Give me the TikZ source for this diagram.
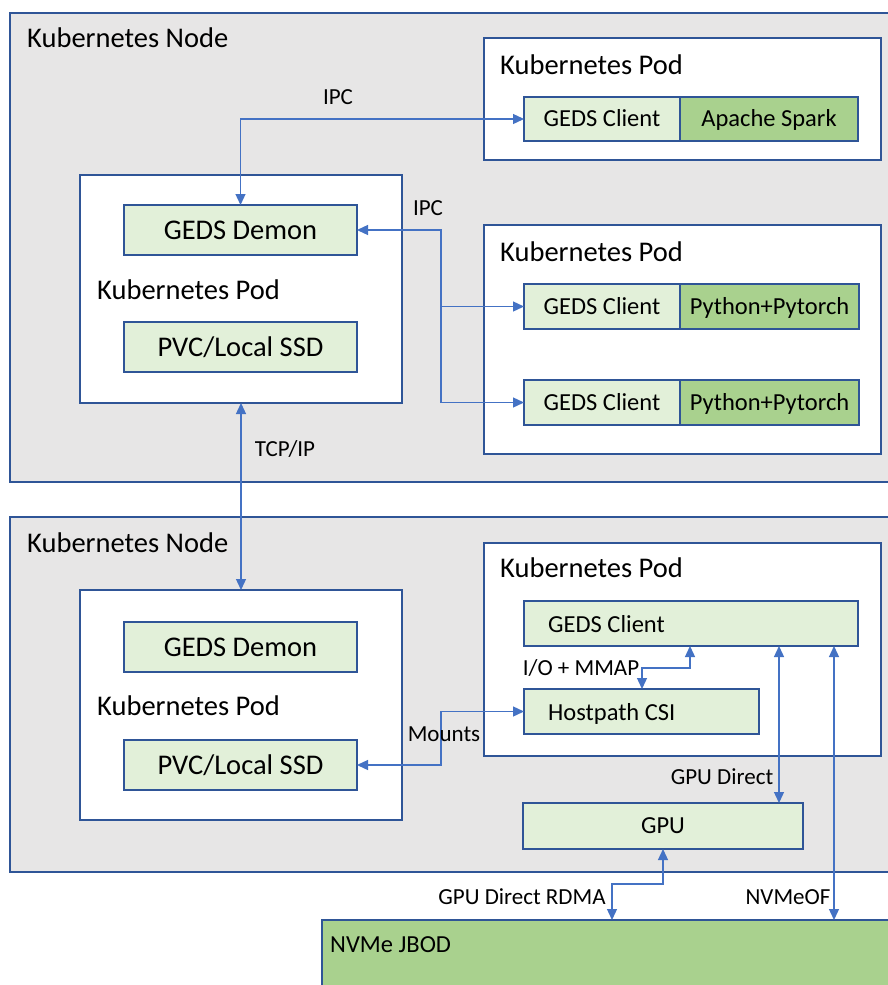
\documentclass[tikz,border=0pt]{standalone}
\usepackage{fontspec}
\setmainfont{Carlito}
\usetikzlibrary{arrows.meta}
\definecolor{nodegray}{HTML}{E7E6E6}
\definecolor{bord}{HTML}{2F5597}
\definecolor{conncol}{HTML}{4472C4}
\definecolor{lgreen}{HTML}{E2F0D9}
\definecolor{dgreen}{HTML}{A9D18E}
\begin{document}
\begin{tikzpicture}[x=1pt,y=-1pt,
  rect/.style={draw=bord, line width=2pt, anchor=north west, inner sep=0pt, outer sep=0pt},
  knode/.style={rect, fill=nodegray},
  pod/.style={rect, fill=white},
  gbox/.style={rect, line width=1.8pt, fill=lgreen, font=\fontsize{24.5}{28}\selectfont, text height=15.8pt, text depth=0pt},
  dbox/.style={gbox, fill=dgreen},
  bigbox/.style={gbox, font=\fontsize{28.5}{32}\selectfont, text height=18.4pt},
  title/.style={anchor=base west, inner sep=0pt, font=\fontsize{28.5}{32}\selectfont},
  boxtext/.style={anchor=base west, inner sep=0pt, font=\fontsize{24.5}{28}\selectfont},
  lbl/.style={anchor=base, inner sep=0pt, font=\fontsize{23}{26}\selectfont},
  conn/.style={draw=conncol, line width=1.3pt, {Triangle[length=11pt,width=10pt]}-{Triangle[length=11pt,width=10pt]}},
  conn1/.style={draw=conncol, line width=1.3pt, -{Triangle[length=11pt,width=10pt]}}
]
\useasboundingbox (0,0) rectangle (888,985);
\fill[white] (0,0) rectangle (888,985);

% Kubernetes nodes
\node[knode, minimum width=890pt, minimum height=469pt] (kn1) at (10,13) {};
\node[knode, minimum width=890pt, minimum height=355pt] (kn2) at (10,517) {};
\node[title] (kn1t) at (27,47) {Kubernetes Node};
\node[title] (kn2t) at (27,552) {Kubernetes Node};

% Top node pods
\node[pod, minimum width=397pt, minimum height=122pt] (podA) at (484,38) {};
\node[title] (podAt) at (500,74) {Kubernetes Pod};
\node[gbox, minimum width=156pt, minimum height=44pt] (clientA) at (524,97) {GEDS Client};
\node[dbox, minimum width=178pt, minimum height=44pt] (sparkA) at (680,97) {Apache Spark};

\node[pod, minimum width=322pt, minimum height=228pt] (podL1) at (80,175) {};
\node[bigbox, minimum width=233pt, minimum height=50pt] (demon1) at (124,205) {GEDS Demon};
\node[title] (podL1t) at (97,299) {Kubernetes Pod};
\node[bigbox, minimum width=233pt, minimum height=50pt] (pvc1) at (124,322) {PVC/Local SSD};

\node[pod, minimum width=397pt, minimum height=229pt] (podB) at (484,225) {};
\node[title] (podBt) at (500,261) {Kubernetes Pod};
\node[gbox, minimum width=156pt, minimum height=45pt] (clientB) at (524,284) {GEDS Client};
\node[dbox, minimum width=179pt, minimum height=45pt] (pyB) at (680,284) {Python+Pytorch};
\node[gbox, minimum width=156pt, minimum height=45pt] (clientC) at (524,380) {GEDS Client};
\node[dbox, minimum width=179pt, minimum height=45pt] (pyC) at (680,380) {Python+Pytorch};

% Bottom node pods
\node[pod, minimum width=322pt, minimum height=230pt] (podL2) at (80,590) {};
\node[bigbox, minimum width=233pt, minimum height=50pt] (demon2) at (124,622) {GEDS Demon};
\node[title] (podL2t) at (97,715) {Kubernetes Pod};
\node[bigbox, minimum width=233pt, minimum height=50pt] (pvc2) at (124,740) {PVC/Local SSD};

\node[pod, minimum width=397pt, minimum height=213pt] (podD) at (484,543) {};
\node[title] (podDt) at (500,577) {Kubernetes Pod};
\node[gbox, minimum width=334pt, minimum height=45pt] (clientD) at (524,601) {};
\node[boxtext] (clientDt) at (548,632) {GEDS Client};
\node[gbox, minimum width=235pt, minimum height=45pt] (hostpath) at (524,689) {};
\node[boxtext] (hostpatht) at (548,720) {Hostpath CSI};

\node[gbox, minimum width=280pt, minimum height=46pt] (gpu) at (523,803) {GPU};

\node[rect, fill=dgreen, minimum width=580pt, minimum height=80pt] (jbod) at (322,920) {};
\node[boxtext] (jbodt) at (330,952) {NVMe JBOD};

% helper coordinates
\coordinate (j1) at (441,0);
\coordinate (m1) at (642,668);
\coordinate (m2) at (690,668);
\coordinate (gd) at (779,0);
\coordinate (nv) at (834,0);
\coordinate (r1) at (664,884);
\coordinate (r2) at (612,884);

% connectors
\draw[conn] (demon1.north) |- (clientA.west);
\draw[conn] (demon1.east) -- (demon1.east -| j1) |- (clientB.west);
\draw[conn1] (clientB.west -| j1) |- (clientC.west);
\draw[conn] (podL1.south) -- (podL2.north);
\draw[conn] (pvc2.east) -- (pvc2.east -| j1) |- (hostpath.west);
\draw[conn] (hostpath.north -| m1) -- (m1) -- (m2) -- (m2 |- clientD.south);
\draw[conn] (clientD.south -| gd) -- (gpu.north -| gd);
\draw[conn] (clientD.south -| nv) -- (jbod.north -| nv);
\draw[conn] (gpu.south) -- (gpu.south |- r1) -- (r2) -- (r2 |- jbod.north);

% labels
\node[lbl] (ipc1) at (338,104) {IPC};
\node[lbl] (ipc2) at (428,215) {IPC};
\node[lbl] (tcp) at (285,456) {TCP/IP};
\node[lbl] (iom) at (581,675) {I/O + MMAP};
\node[lbl] (mounts) at (444,741) {Mounts};
\node[lbl] (gpud) at (722,784) {GPU Direct};
\node[lbl] (rdma) at (522,904) {GPU Direct RDMA};
\node[lbl] (nvmeof) at (788,904) {NVMeOF};
\end{tikzpicture}
\end{document}
